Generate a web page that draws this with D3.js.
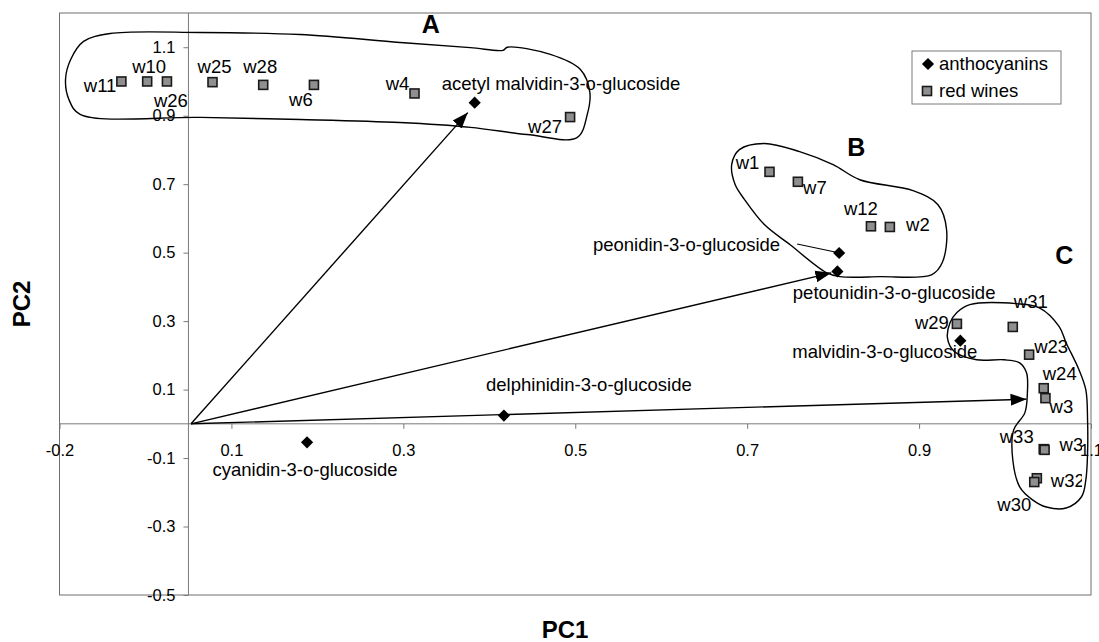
<!DOCTYPE html>
<html>
<head>
<meta charset="utf-8">
<script src="https://cdn.jsdelivr.net/npm/d3@7/dist/d3.min.js"></script>
<style>
  html, body { margin: 0; padding: 0; background: #fff; }
  svg { display: block; font-family: "Liberation Sans", Arial, sans-serif; }
</style>
</head>
<body>
<svg id="chart" width="1099" height="642"></svg>
<script>
// ---------------- data ----------------
const xTickValues = [-0.1, 0.1, 0.3, 0.5, 0.7, 0.9, 1.1];
const xTickLabels = ["-0.2", "0.1", "0.3", "0.5", "0.7", "0.9", "1.1"];
const yTickValues = [-0.5, -0.3, -0.1, 0.1, 0.3, 0.5, 0.7, 0.9, 1.1];
const yTickLabels = ["-0.5", "-0.3", "-0.1", "0.1", "0.3", "0.5", "0.7", "0.9", "1.1"];

const anthoNames = ["acetyl malvidin-3-o-glucoside", "peonidin-3-o-glucoside", "petounidin-3-o-glucoside",
                    "malvidin-3-o-glucoside", "delphinidin-3-o-glucoside", "cyanidin-3-o-glucoside"];
const anthoPC1 = [0.383, 0.807, 0.805, 0.948, 0.417, 0.188];
const anthoPC2 = [0.938, 0.499, 0.445, 0.243, 0.024, -0.054];

const wineNames = ["w11", "w10", "w26", "w25", "w28", "w6", "w4", "w27",
                   "w1", "w7", "w12", "w2",
                   "w29", "w31", "w23", "w24", "w3", "w33", "w34", "w32", "w30"];
const winePC1 = [-0.028, 0.002, 0.025, 0.078, 0.137, 0.196, 0.313, 0.494,
                 0.726, 0.759, 0.844, 0.866,
                 0.944, 1.009, 1.028, 1.045, 1.047, 1.045, 1.046, 1.037, 1.034];
const winePC2 = [1.000, 1.000, 1.000, 0.998, 0.990, 0.990, 0.965, 0.896,
                 0.736, 0.707, 0.577, 0.575,
                 0.292, 0.283, 0.202, 0.104, 0.075, -0.074, -0.076, -0.159, -0.170];

// loading vectors (origin -> tip)
const vectorOrigin = [0.053, 0];
const vectorPC1 = [0.375, 0.798, 1.025];
const vectorPC2 = [0.909, 0.441, 0.072];

// cluster names
const clusterNames = ["A", "B", "C"];
const clusterPC1 = [0.332, 0.827, 1.069];
const clusterPC2 = [1.167, 0.810, 0.494];

// cluster outlines (hand-drawn enclosures, in PC units)
const outlineA = [[-0.072,1.117],[-0.041,1.140],[0.064,1.143],[0.180,1.137],[0.296,1.114],[0.378,1.099],
  [0.416,1.091],[0.421,1.100],[0.471,1.079],[0.506,1.035],[0.517,0.968],[0.514,0.904],[0.502,0.836],
  [0.444,0.845],[0.378,0.866],[0.296,0.880],[0.180,0.889],[0.064,0.895],[-0.076,0.904],[-0.089,0.947],
  [-0.093,1.006],[-0.087,1.064]];
const outlineB = [[0.682,0.757],[0.691,0.801],[0.720,0.819],[0.761,0.795],[0.800,0.757],[0.831,0.713],
  [0.893,0.681],[0.922,0.640],[0.932,0.567],[0.927,0.471],[0.915,0.436],[0.854,0.430],[0.808,0.430],
  [0.792,0.442],[0.750,0.523],[0.720,0.582],[0.697,0.655],[0.686,0.699]];
const outlineC = [[0.944,0.325],[0.959,0.348],[1.013,0.351],[1.040,0.339],[1.063,0.284],[1.071,0.237],
  [1.086,0.158],[1.094,0.099],[1.096,0.012],[1.096,-0.085],[1.094,-0.164],[1.089,-0.213],[1.071,-0.246],
  [1.048,-0.243],[1.032,-0.222],[1.017,-0.184],[1.009,-0.105],[1.010,-0.018],[1.023,0.032],[1.026,0.091],
  [1.025,0.149],[1.017,0.178],[0.999,0.187],[0.967,0.187],[0.941,0.211],[0.933,0.251],[0.936,0.295]];

// label placement (pixel offsets from marker) — styling, not data
const wineLabelPos = [
  [-5, 4, "end"], [2, -15, "middle"], [4, 19, "middle"], [2, -16, "middle"], [-3, -18, "middle"],
  [-13, 15, "middle"], [-17, -10, "middle"], [-25, 9, "middle"],
  [-22, -9, "middle"], [17, 6, "middle"], [-10, -18, "middle"], [28, -2, "middle"],
  [-25, -1, "middle"], [18, -25, "middle"], [22, -8, "middle"], [16, -15, "middle"], [16, 8, "middle"],
  [-27, -13, "middle"], [15, -5, "start"], [31, 2, "middle"], [-20, 23, "middle"]];
const anthoLabelPos = [
  [-33, -19, "start"], [-59, -8, "end"], [158, 21, "end"], [17, 11, "end"], [85, -31, "middle"], [-2, 27, "middle"]];

// ---------------- layout ----------------
const svg = d3.select("#chart");
const plot = { left: 59.5, right: 1091, top: 13, bottom: 595 };
const x = d3.scaleLinear().domain([-0.1, 1.1]).range([plot.left, plot.right]);
const y = d3.scaleLinear().domain([-0.5, 1.2]).range([plot.bottom, plot.top]);
const yAxisAt = 0.05;

const defs = svg.append("defs");
defs.append("marker").attr("id", "arrow")
  .attr("viewBox", "0 -7 16 14").attr("refX", 16).attr("refY", 0)
  .attr("markerWidth", 16).attr("markerHeight", 14).attr("markerUnits", "userSpaceOnUse")
  .attr("orient", "auto")
  .append("path").attr("d", "M0,-6L16,0L0,6Z").attr("fill", "#000");
defs.append("clipPath").attr("id", "labelClip")
  .append("rect").attr("x", 0).attr("y", 0).attr("width", 1082).attr("height", 642);

// plot frame
svg.append("rect").attr("x", plot.left).attr("y", plot.top)
  .attr("width", plot.right - plot.left).attr("height", plot.bottom - plot.top)
  .attr("fill", "none").attr("stroke", "#6e6e6e").attr("stroke-width", 1);

// axes lines
svg.append("line").attr("x1", plot.left).attr("x2", plot.right)
  .attr("y1", y(0)).attr("y2", y(0)).attr("stroke", "#7a7a7a").attr("stroke-width", 1);
svg.append("line").attr("x1", x(yAxisAt)).attr("x2", x(yAxisAt))
  .attr("y1", plot.top).attr("y2", plot.bottom).attr("stroke", "#7a7a7a").attr("stroke-width", 1);

const xAxis = d3.axisBottom(x).tickValues(xTickValues)
  .tickFormat((d, i) => xTickLabels[i]).tickSize(5).tickPadding(15);
const gx = svg.append("g").attr("transform", `translate(0,${y(0)})`).call(xAxis);
gx.select(".domain").remove();

const yAxis = d3.axisLeft(y).tickValues(yTickValues)
  .tickFormat((d, i) => yTickLabels[i]).tickSize(5).tickPadding(8);
const gy = svg.append("g").attr("transform", `translate(${x(yAxisAt)},0)`).call(yAxis);
gy.select(".domain").remove();

[gx, gy].forEach(g => {
  g.selectAll(".tick line").attr("stroke", "#7a7a7a");
  g.selectAll(".tick text").attr("font-size", 16.5).attr("fill", "#000")
    .attr("font-family", "Liberation Sans, Arial, sans-serif");
});

// outlines
const line = d3.line().x(d => x(d[0])).y(d => y(d[1])).curve(d3.curveCatmullRomClosed.alpha(0.5));
[outlineA, outlineB, outlineC].forEach(o => {
  svg.append("path").attr("d", line(o)).attr("fill", "none").attr("stroke", "#000").attr("stroke-width", 1.4);
});

// vectors
vectorPC1.forEach((vx, i) => {
  svg.append("line")
    .attr("x1", x(vectorOrigin[0])).attr("y1", y(vectorOrigin[1]))
    .attr("x2", x(vx)).attr("y2", y(vectorPC2[i]))
    .attr("stroke", "#000").attr("stroke-width", 1.4)
    .attr("marker-end", "url(#arrow)");
});

// peonidin leader line
const pIdx = 1;
svg.append("line")
  .attr("x1", x(anthoPC1[pIdx]) - 42).attr("y1", y(anthoPC2[pIdx]) - 9)
  .attr("x2", x(anthoPC1[pIdx]) - 4).attr("y2", y(anthoPC2[pIdx]) - 1)
  .attr("stroke", "#000").attr("stroke-width", 1.2);

// wine markers
const diamond = d3.symbol().type(d3.symbolDiamond2).size(95);
svg.append("g").selectAll("rect").data(wineNames).join("rect")
  .attr("x", (d, i) => x(winePC1[i]) - 4.5).attr("y", (d, i) => y(winePC2[i]) - 4.5)
  .attr("width", 9).attr("height", 9)
  .attr("fill", "#8f8f8f").attr("stroke", "#1a1a1a").attr("stroke-width", 1.6);

svg.append("g").selectAll("path").data(anthoNames).join("path")
  .attr("transform", (d, i) => `translate(${x(anthoPC1[i])},${y(anthoPC2[i])})`)
  .attr("d", diamond).attr("fill", "#000");

// labels
const labels = svg.append("g").attr("clip-path", "url(#labelClip)")
  .attr("font-size", 18.5).attr("fill", "#000");
labels.selectAll("text.w").data(wineNames).join("text").attr("class", "w")
  .attr("x", (d, i) => x(winePC1[i]) + wineLabelPos[i][0])
  .attr("y", (d, i) => y(winePC2[i]) + wineLabelPos[i][1])
  .attr("dy", "0.35em").attr("text-anchor", (d, i) => wineLabelPos[i][2])
  .text(d => d);
labels.selectAll("text.a").data(anthoNames).join("text").attr("class", "a")
  .attr("x", (d, i) => x(anthoPC1[i]) + anthoLabelPos[i][0])
  .attr("y", (d, i) => y(anthoPC2[i]) + anthoLabelPos[i][1])
  .attr("dy", "0.35em").attr("text-anchor", (d, i) => anthoLabelPos[i][2])
  .text(d => d);

// cluster letters
svg.append("g").selectAll("text").data(clusterNames).join("text")
  .attr("x", (d, i) => x(clusterPC1[i])).attr("y", (d, i) => y(clusterPC2[i]))
  .attr("dy", "0.36em").attr("text-anchor", "middle")
  .attr("font-size", 25).attr("font-weight", "bold").text(d => d);

// legend
const lg = svg.append("g");
lg.append("rect").attr("x", 912).attr("y", 51).attr("width", 149).attr("height", 53)
  .attr("fill", "#fff").attr("stroke", "#7a7a7a").attr("stroke-width", 1);
lg.append("path").attr("transform", "translate(928,64)").attr("d", diamond).attr("fill", "#000");
lg.append("rect").attr("x", 922.5).attr("y", 86.5).attr("width", 9).attr("height", 9)
  .attr("fill", "#8f8f8f").attr("stroke", "#1a1a1a").attr("stroke-width", 1.6);
lg.append("text").attr("x", 939).attr("y", 64).attr("dy", "0.35em").attr("font-size", 18.5).text("anthocyanins");
lg.append("text").attr("x", 939).attr("y", 91).attr("dy", "0.35em").attr("font-size", 18.5).text("red wines");

// axis titles
svg.append("text").attr("x", 565).attr("y", 629).attr("dy", "0.36em").attr("text-anchor", "middle")
  .attr("font-size", 24).attr("font-weight", "bold").text("PC1");
svg.append("text").attr("transform", "translate(21,304) rotate(-90)").attr("dy", "0.36em")
  .attr("text-anchor", "middle").attr("font-size", 24).attr("font-weight", "bold").text("PC2");
</script>
</body>
</html>
